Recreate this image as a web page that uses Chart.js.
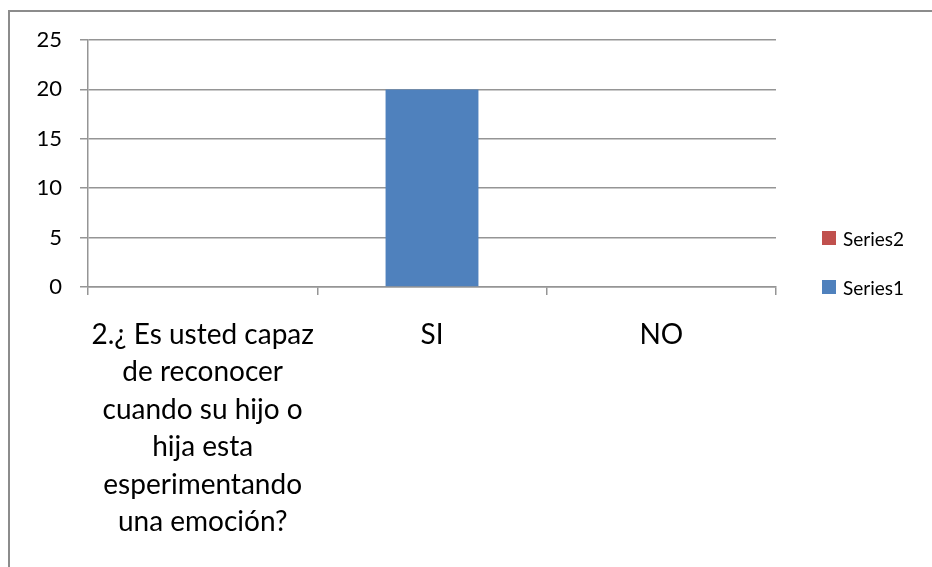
<!DOCTYPE html>
<html>
<head>
<meta charset="utf-8">
<script src="https://cdn.jsdelivr.net/npm/chart.js@4.4.1/dist/chart.umd.min.js"></script>
<style>
  body { margin: 0; background: #ffffff; }
  #wrap { position: relative; width: 932px; height: 567px; overflow: hidden; }
  #frame { position: absolute; left: 8px; top: 10px; right: -4px; bottom: -4px;
           border-left: 2px solid #8c8c8c; border-top: 2px solid #8c8c8c; }
  #chart_legend { position: absolute; left: 822px; top: 228px; font-family: Lato, sans-serif;
                  font-size: 19px; color: #000; }
  .legend_row { display: flex; align-items: center; height: 20px; margin-bottom: 29px; }
  .legend_box { width: 14px; height: 14px; margin-right: 7px; }
</style>
</head>
<body>
<div id="wrap">
  <canvas id="question_chart" width="932" height="567"></canvas>
  <div id="frame"></div>
  <div id="chart_legend"></div>
</div>
<script>
// data
let categories = [
    ["2.¿ Es usted capaz", "de reconocer", "cuando su hijo o", "hija esta", "esperimentando", "una emoción?"],
    "SI",
    "NO"
];
let series1Values = [null, 20, 0];
let series2Values = [null, 0, 0];
let yTicks = [0, 5, 10, 15, 20, 25];

Chart.defaults.font.family = "Lato";
Chart.defaults.color = "#000000";

let gridGrey = "#959595";

let questionChart = new Chart("question_chart", {
    type: "bar",
    data: {
        labels: categories,
        datasets: [{
            label: "Series1",
            data: series1Values,
            backgroundColor: "#4F81BD"
        }, {
            label: "Series2",
            data: series2Values,
            backgroundColor: "#C0504D"
        }]
    },
    options: {
        responsive: false,
        animation: false,
        layout: {padding: {left: 20, top: 40, right: 156, bottom: 0}},
        datasets: {bar: {barPercentage: 0.5, categoryPercentage: 0.81}},
        plugins: {
            legend: {display: false},
            tooltip: {enabled: false}
        },
        scales: {
            x: {
                stacked: true,
                grid: {drawOnChartArea: false, drawTicks: true, tickLength: 8, color: gridGrey, lineWidth: 1.5},
                border: {color: gridGrey, width: 1.5},
                ticks: {font: {size: 28, lineHeight: 1.34}, padding: 21, maxRotation: 0, autoSkip: false},
                afterFit: function(scale){ scale.height = 280; }
            },
            y: {
                stacked: true,
                min: 0,
                max: 25,
                afterBuildTicks: function(scale){ scale.ticks = yTicks.map(v => ({value: v})); },
                grid: {tickLength: 8, color: gridGrey, lineWidth: 1.5},
                border: {color: gridGrey, width: 1.5},
                ticks: {font: {size: 22}, padding: 18},
                afterFit: function(scale){ scale.width = 68; }
            }
        }
    }
});

// legend on the right, Series2 listed first like the original
let legendHolder = document.getElementById("chart_legend");
questionChart.data.datasets.slice().reverse().forEach(ds => {
    legendHolder.innerHTML +=
        '<div class="legend_row"><div class="legend_box" style="background:' + ds.backgroundColor + '"></div>' +
        '<span>' + ds.label + '</span></div>';
});
</script>
</body>
</html>
